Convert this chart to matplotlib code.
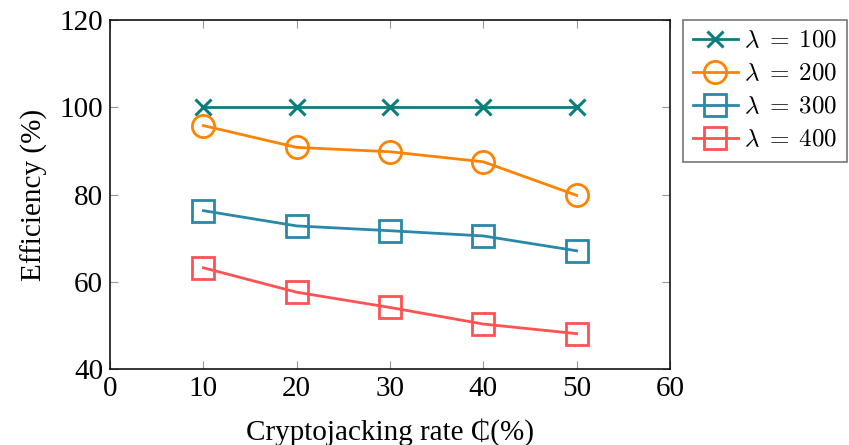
import numpy as np
import matplotlib.pyplot as plt

rate = [10, 20, 30, 40, 50]
eff_100 = [100, 100, 100, 100, 100]
eff_200 = [95.8, 90.8, 89.8, 87.5, 79.8]
eff_300 = [76.3, 72.8, 71.7, 70.5, 67.1]
eff_400 = [63.2, 57.6, 54.1, 50.3, 48.1]
labels = [r'$\lambda\;=\;100$', r'$\lambda\;=\;200$',
          r'$\lambda\;=\;300$', r'$\lambda\;=\;400$']

plt.rcParams['font.family'] = ['Liberation Serif', 'DejaVu Serif']
plt.rcParams['mathtext.fontset'] = 'cm'

fig = plt.figure(figsize=(8.49, 4.45), dpi=100)
ax = fig.add_axes([0.1296, 0.1708, 0.6596, 0.7842])

ax.plot(rate, eff_100, color='#0b7d7d', lw=2, marker='x', ms=12, mew=2.2, label=labels[0])
ax.plot(rate, eff_200, color='#ff8303', lw=2, marker='o', ms=16, mew=2, mfc='none', label=labels[1])
ax.plot(rate, eff_300, color='#2a88a8', lw=2, marker='s', ms=16, mew=2, mfc='none', label=labels[2])
ax.plot(rate, eff_400, color='#ff5252', lw=2, marker='s', ms=16, mew=2, mfc='none', label=labels[3])

ax.set_xlim(0, 60)
ax.set_ylim(40, 120)
ax.set_xticks(range(0, 61, 10))
ax.set_yticks(range(40, 121, 20))
ax.tick_params(direction='in', length=6, color='#999999', top=True, right=True,
               labelsize=21, pad=5)
for s in ax.spines.values():
    s.set_linewidth(1.1)
ax.set_xlabel('Cryptojacking rate \u20b5(%)', fontsize=21, labelpad=12)
ax.set_ylabel('Efficiency (%)', fontsize=21, labelpad=8)

leg = ax.legend(loc='upper right', bbox_to_anchor=(0.998, 0.955),
                bbox_transform=fig.transFigure, fontsize=18,
                frameon=True, fancybox=False, edgecolor='#555555', borderaxespad=0,
                handlelength=1.8, handletextpad=0.25, labelspacing=0.42, borderpad=0.4)
leg.get_frame().set_linewidth(1.2)

fig.savefig('out.png', dpi=100)
